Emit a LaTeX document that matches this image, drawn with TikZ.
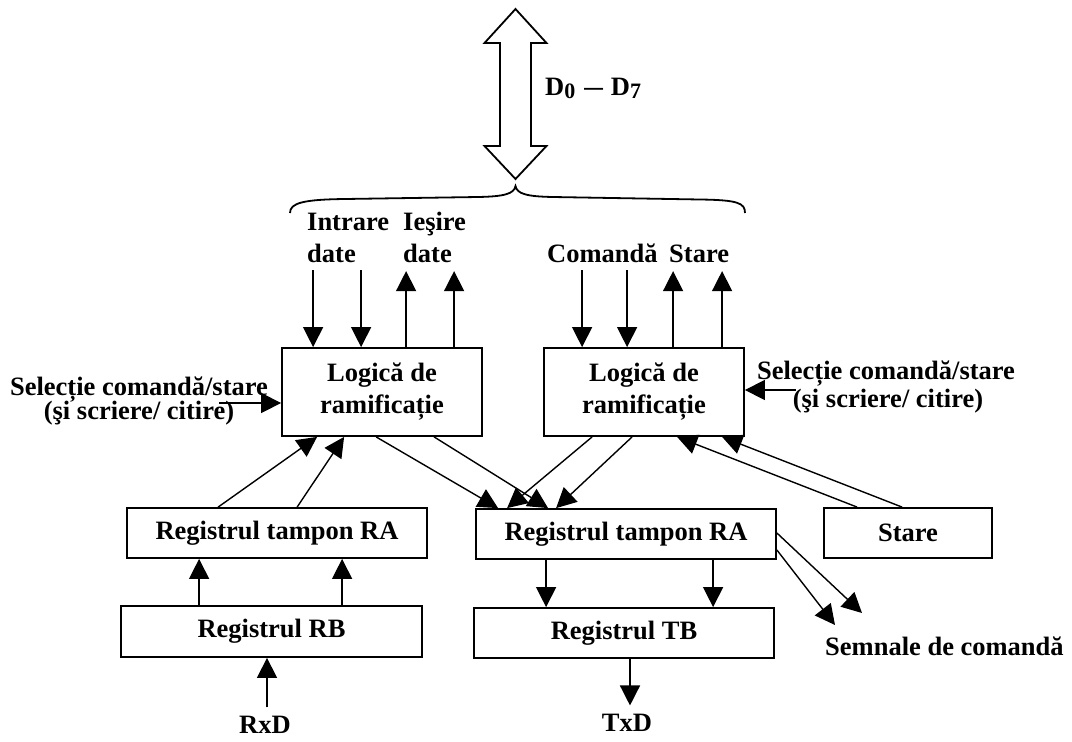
\documentclass[tikz,border=0pt]{standalone}
\usepackage{fontspec}
\setmainfont{Liberation Serif}
\usetikzlibrary{arrows.meta}
\begin{document}
\begin{tikzpicture}[x=1pt,y=-1pt,
  font=\fontsize{26.5}{32}\selectfont\bfseries,
  box/.style={draw, line width=1.8pt, inner sep=0pt, align=center, fill=white},
  lbl/.style={inner sep=0pt, anchor=base},
  lblw/.style={inner sep=0pt, anchor=base west},
  conn/.style={line width=1.4pt, -{Triangle[length=20pt,width=20pt]}},
  bus/.style={line width=1.8pt, line join=miter}
]
\fill[white] (0,0) rectangle (1072,742);
\useasboundingbox (0,0) rectangle (1072,742);

% data bus: double-headed hollow arrow
\draw[bus] (515.5,9) -- (546.5,43) -- (531,43) -- (531,146) -- (546.5,146)
  -- (515.5,179) -- (484.5,146) -- (500,146) -- (500,43) -- (484.5,43) -- cycle;
\node[lblw] (bus) at (545,95) {D\raisebox{-3.5pt}{\fontsize{22}{22}\selectfont 0}\hspace{9pt}\scalebox{1.4}[1]{–}\hspace{8pt}D\raisebox{-3.5pt}{\fontsize{22}{22}\selectfont 7}};

% brace under the bus
\draw[line width=1.8pt] (290,213) .. controls (290,203) and (303,199.5) .. (345,199)
  -- (478,197) .. controls (504,196.5) and (514,194) .. (515.5,186)
  .. controls (517,194) and (527,196.5) .. (553,197)
  -- (700,199.5) .. controls (738,200) and (745,203) .. (745,213);

% blocks
\node[box, minimum width=200pt, minimum height=88pt] (lg1) at (382,392) {Logică de\\ramificație};
\node[box, minimum width=200pt, minimum height=88pt] (lg2) at (644,392) {Logică de\\ramificație};
\node[box, minimum width=300pt, minimum height=50pt] (raL) at (277,533) {Registrul tampon RA};
\node[box, minimum width=300pt, minimum height=50pt] (raR) at (626,534) {Registrul tampon RA};
\node[box, minimum width=301pt, minimum height=51pt] (rb) at (271.5,631.5) {Registrul RB};
\node[box, minimum width=300pt, minimum height=50pt] (tb) at (624,633) {Registrul TB};
\node[box, minimum width=168pt, minimum height=50pt] (st) at (908,533) {Stare};

% labels above the logic blocks
\node[lblw] (in1) at (307,230) {Intrare};
\node[lblw] (in2) at (307,262) {date};
\node[lblw] (out1) at (403,230) {Ieşire};
\node[lblw] (out2) at (403,262) {date};
\node[lblw] (cmd) at (547,262) {Comandă};
\node[lblw] (sta) at (669,262) {Stare};

% select labels
\node[lbl] (selL1) at (139,395) {Selecție comandă/stare};
\node[lbl] (selL2) at (139,419) {(şi scriere/ citire)};
\node[lbl] (selR1) at (886,379) {Selecție comandă/stare};
\node[lbl] (selR2) at (888,407) {(şi scriere/ citire)};

% bottom labels
\node[lbl] (rxd) at (265,733) {RxD};
\node[lbl] (txd) at (627,731) {TxD};
\node[lblw] (sem) at (825,655) {Semnale de comandă};

% data lines of the left logic block
\draw[conn] ([xshift=32pt,yshift=77pt]lg1.north west) -- ([xshift=32pt]lg1.north west);
\draw[conn] ([xshift=80pt,yshift=77pt]lg1.north west) -- ([xshift=80pt]lg1.north west);
\draw[conn] ([xshift=125pt]lg1.north west) -- ([xshift=125pt,yshift=76pt]lg1.north west);
\draw[conn] ([xshift=173pt]lg1.north west) -- ([xshift=173pt,yshift=76pt]lg1.north west);

% command / status lines of the right logic block
\draw[conn] ([xshift=39pt,yshift=77pt]lg2.north west) -- ([xshift=39pt]lg2.north west);
\draw[conn] ([xshift=84pt,yshift=77pt]lg2.north west) -- ([xshift=84pt]lg2.north west);
\draw[conn] ([xshift=130pt]lg2.north west) -- ([xshift=130pt,yshift=76pt]lg2.north west);
\draw[conn] ([xshift=179pt]lg2.north west) -- ([xshift=179pt,yshift=76pt]lg2.north west);

% select inputs
\draw[conn] ([xshift=-62pt,yshift=-11pt]lg1.west) -- ([yshift=-11pt]lg1.west);
\draw[conn] ([xshift=51pt,yshift=2pt]lg2.east) -- ([yshift=2pt]lg2.east);

% receive buffer to left logic
\draw[conn] ([xshift=92pt]raL.north west) -- ([xshift=36pt]lg1.south west);
\draw[conn] ([xshift=171pt]raL.north west) -- ([xshift=63pt]lg1.south west);

% logic blocks to transmit buffer
\draw[conn] ([xshift=95pt]lg1.south west) -- ([xshift=23pt]raR.north west);
\draw[conn] ([xshift=153pt]lg1.south west) -- ([xshift=73pt]raR.north west);
\draw[conn] ([xshift=49pt]lg2.south west) -- ([xshift=32pt]raR.north west);
\draw[conn] ([xshift=89pt]lg2.south west) -- ([xshift=81pt]raR.north west);

% status to right logic
\draw[conn] ([xshift=34pt]st.north west) -- ([xshift=134pt]lg2.south west);
\draw[conn] ([xshift=79pt]st.north west) -- ([xshift=179pt]lg2.south west);

% RB to RA
\coordinate (rbA) at ([xshift=79pt]rb.north west);
\coordinate (rbB) at ([xshift=222pt]rb.north west);
\draw[conn] (rbA) -- (rbA |- raL.south);
\draw[conn] (rbB) -- (rbB |- raL.south);

% serial input
\coordinate (rxdTop) at ([xshift=2pt,yshift=8pt]rxd.north);
\draw[conn] (rxdTop) -- (rxdTop |- rb.south);

% RA to TB
\coordinate (raA) at ([xshift=71pt]raR.south west);
\coordinate (raB) at ([xshift=238pt]raR.south west);
\draw[conn] (raA) -- (raA |- tb.north);
\draw[conn] (raB) -- (raB |- tb.north);

% serial output
\coordinate (tbOut) at ([xshift=6pt]tb.south);
\draw[conn, shorten >=8pt] (tbOut) -- (tbOut |- txd.north);

% control signals
\coordinate (s1) at (862,613);
\coordinate (s2) at (835,625);
\draw[conn] ([yshift=1pt]raR.east) -- (s1);
\draw[conn] ([yshift=-16pt]raR.east) -- (s2);
\end{tikzpicture}
\end{document}
